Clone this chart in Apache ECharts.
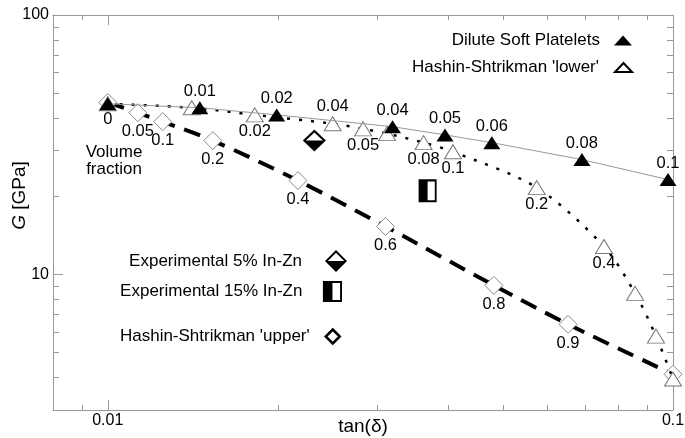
<!DOCTYPE html>
<html>
<head>
<meta charset="utf-8">
<script src="https://cdn.jsdelivr.net/npm/echarts@6/dist/echarts.min.js"></script>
<style>
html, body { margin: 0; padding: 0; background: #fff; }
#chart { width: 685px; height: 438px; }
</style>
</head>
<body>
<div id="chart"></div>
<script>
// values (tan delta, G in GPa, volume fraction labels)
var diluteTan = [0.01, 0.01455, 0.0199, 0.0319, 0.0395, 0.0478, 0.0690, 0.098];
var diluteG = [45.5, 43.9, 41.2, 37.1, 34.5, 32.2, 27.7, 23.2];
var diluteFrac = ['0', '0.01', '0.02', '0.04', '0.05', '0.06', '0.08', '0.1'];

var lowerTan = [0.01, 0.01408, 0.0182, 0.0250, 0.0283, 0.0312, 0.0362, 0.0408, 0.0574, 0.0755, 0.0857, 0.0933, 0.1];
var lowerG = [45.5, 43.9, 41.2, 38.1, 36.4, 34.9, 32.2, 29.7, 21.6, 12.8, 8.45, 5.78, 3.95];
var lowerFrac = ['', '', '0.02', '0.04', '0.05', '', '0.08', '0.1', '0.2', '0.4', '', '', ''];

var upperTan = [0.01, 0.0113, 0.01251, 0.01534, 0.0217, 0.0310, 0.0482, 0.0652, 0.1];
var upperG = [46, 42.0, 38.8, 32.8, 23.0, 15.3, 9.07, 6.42, 4.12];
var upperFrac = ['', '0.05', '0.1', '0.2', '0.4', '0.6', '0.8', '0.9', ''];

var exp5Tan = [0.0232];
var exp5G = [32.8];
var exp15Tan = [0.0368];
var exp15G = [21.0];

var xTicks = [0.01, 0.1];
var xMinor = [0.009, 0.02, 0.03, 0.04, 0.05, 0.06, 0.07, 0.08, 0.09];
var yTicks = [10, 100];
var yMinor = [4, 5, 6, 7, 8, 9, 20, 30, 40, 50, 60, 70, 80, 90];

// label placement per point
var diluteLabelAt = ['bottom', 'top', 'top', 'top', 'top', 'top', 'top', 'top'];
var lowerLabelAt = ['bottom', 'bottom', 'bottom', 'top', 'bottom', 'bottom', 'bottom', 'bottom', 'bottom', 'bottom', 'bottom', 'bottom', 'bottom'];

var FONT = 'Liberation Sans';
var AXIS = '#999';
var lg = Math.log10;

var halfDiamond = 'path://M10 0L20 10L10 20L0 10ZM10 2.6L2.6 10L17.4 10Z';
var halfSquare = 'path://M0 0L20 0L20 22L0 22ZM10 2L10 20L18 20L18 2Z';

var chart = echarts.init(document.getElementById('chart'));

function points(tans, gs, fracs, places){
	return tans.map(function(t, i){
		var txt = fracs ? fracs[i] : '';
		return {
			name: txt,
			value: [lg(t), lg(gs[i])],
			label: {show: !!txt, position: places ? places[i] : 'bottom'}
		};
	});
}

function fmt(v){
	return String(+Math.pow(10, v).toPrecision(2));
}

function axis(pos, min, max, ticks, len, labels, line){
	return {
		type: 'value',
		position: pos,
		min: min,
		max: max,
		axisLine: {show: line, lineStyle: {color: AXIS, width: 1}},
		axisTick: {show: true, inside: true, length: len, customValues: ticks.map(lg), lineStyle: {color: AXIS, width: 1}},
		axisLabel: labels ? {
			show: true, customValues: labels.map(lg), formatter: fmt,
			color: '#000', fontFamily: FONT, fontSize: 16,
			margin: (pos == 'bottom' ? 3 : 4)
		} : {show: false},
		splitLine: {show: false}
	};
}

var xMin = lg(0.008), xMax = lg(0.1);
var yMin = lg(3), yMax = lg(100);

var xAxes = [
	axis('bottom', xMin, xMax, xTicks, 10, xTicks, true),
	axis('bottom', xMin, xMax, xMinor, 5, null, false),
	axis('top', xMin, xMax, xTicks, 10, null, true),
	axis('top', xMin, xMax, xMinor, 5, null, false)
];
xAxes[0].name = 'tan(\u03b4)';
xAxes[0].nameLocation = 'middle';
xAxes[0].nameGap = 7;
xAxes[0].nameMoveOverlap = false;
xAxes[0].nameTextStyle = {fontFamily: FONT, fontSize: 19, color: '#000'};

var yAxes = [
	axis('left', yMin, yMax, yTicks, 10, yTicks, true),
	axis('left', yMin, yMax, yMinor, 6, null, false),
	axis('right', yMin, yMax, yTicks, 10, null, true),
	axis('right', yMin, yMax, yMinor, 6, null, false)
];
yAxes[0].name = '{i|G} [GPa]';
yAxes[0].nameLocation = 'middle';
yAxes[0].nameGap = 24;
yAxes[0].nameMoveOverlap = false;
yAxes[0].nameTextStyle = {
	fontFamily: FONT, fontSize: 19, color: '#000', padding: [0, 0, 0, 34],
	rich: {i: {fontFamily: FONT, fontSize: 19, fontStyle: 'italic', color: '#000'}}
};

var labelStyle = {color: '#000', fontFamily: FONT, fontSize: 16.5, distance: 1, formatter: '{b}'};

function legendAt(name, icon, w, h, right, top, style, gap){
	return {
		data: [{name: name, icon: icon, itemStyle: style}],
		orient: 'horizontal',
		align: 'right',
		right: right,
		top: top,
		padding: 0,
		itemWidth: w,
		itemHeight: h,
		selectedMode: false,
		textStyle: {fontFamily: FONT, fontSize: 17, color: '#000', padding: [0, gap - 5, 0, 0]}
	};
}

var option = {
	backgroundColor: '#fff',
	animation: false,
	grid: {left: 53, right: 12, top: 15, bottom: 28, outerBoundsMode: 'none'},
	xAxis: xAxes,
	yAxis: yAxes,
	legend: [
		legendAt('Dilute Soft Platelets', 'triangle', 18, 10, 53, 32, {color: '#000', borderWidth: 0}, 14),
		legendAt("Hashin-Shtrikman 'lower'", 'triangle', 17, 9, 52, 59, {color: '#fff', borderColor: '#000', borderWidth: 2}, 16),
		legendAt('Experimental 5% In-Zn', halfDiamond, 28, 22, 338, 250, {color: '#000', borderWidth: 0}, 20),
		legendAt('Experimental 15% In-Zn', halfSquare, 20, 21, 343, 281, {color: '#000', borderWidth: 0}, 20),
		legendAt("Hashin-Shtrikman 'upper'", 'diamond', 14, 14, 344, 328, {color: '#fff', borderColor: '#000', borderWidth: 2.5}, 16)
	],
	graphic: [{
		type: 'text',
		x: 114,
		y: 161,
		style: {
			text: 'Volume\nfraction', align: 'center', verticalAlign: 'middle',
			font: '17px "Liberation Sans"', lineHeight: 17, fill: '#000'
		}
	}],
	series: [
		{
			name: "Hashin-Shtrikman 'upper'",
			type: 'line',
			smooth: 0.3,
			symbol: 'diamond',
			symbolSize: [18, 18],
			itemStyle: {color: '#fff', borderColor: '#888', borderWidth: 1},
			lineStyle: {color: '#000', width: 4, type: [17, 10]},
			label: labelStyle,
			data: points(upperTan, upperG, upperFrac),
			z: 2
		},
		{
			name: "Hashin-Shtrikman 'lower'",
			type: 'line',
			smooth: 0.3,
			symbol: 'triangle',
			symbolSize: [17, 14],
			itemStyle: {color: '#fff', borderColor: '#777', borderWidth: 1},
			lineStyle: {color: '#000', width: 2.5, type: [3, 9]},
			label: labelStyle,
			data: points(lowerTan, lowerG, lowerFrac, lowerLabelAt),
			z: 3
		},
		{
			name: 'Dilute Soft Platelets',
			type: 'line',
			symbol: 'triangle',
			symbolSize: [17, 13],
			itemStyle: {color: '#000', borderWidth: 0},
			lineStyle: {color: '#999', width: 1},
			label: labelStyle,
			data: points(diluteTan, diluteG, diluteFrac, diluteLabelAt),
			z: 4
		},
		{
			name: 'Experimental 5% In-Zn',
			type: 'scatter',
			symbol: halfDiamond,
			symbolSize: [23, 22],
			itemStyle: {color: '#000', borderWidth: 0, opacity: 1},
			data: points(exp5Tan, exp5G),
			z: 5
		},
		{
			name: 'Experimental 15% In-Zn',
			type: 'scatter',
			symbol: halfSquare,
			symbolSize: [18, 23],
			itemStyle: {color: '#000', borderWidth: 0, opacity: 1},
			data: points(exp15Tan, exp15G),
			z: 5
		}
	]
};

chart.setOption(option);
</script>
</body>
</html>
